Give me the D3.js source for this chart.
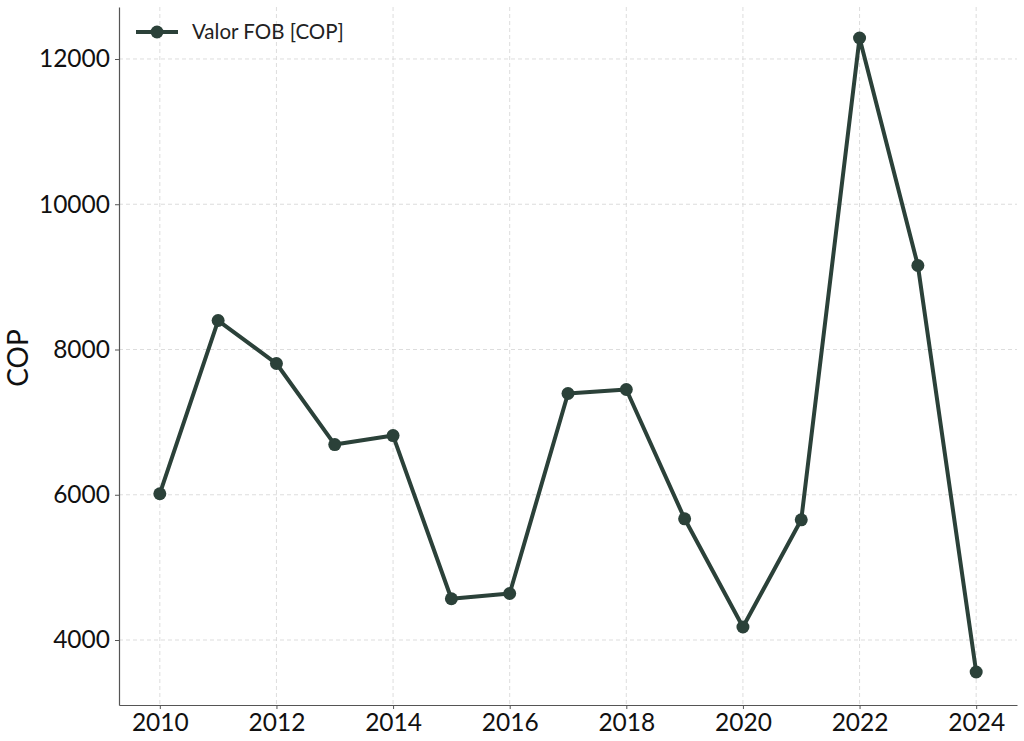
<!DOCTYPE html>
<html>
<head>
<style>
body { margin: 0; background: #fff; }
text { font-family: Lato, "DejaVu Sans", sans-serif; }
</style>
</head>
<body>
<svg id="svg"></svg>
<script src="https://cdnjs.cloudflare.com/ajax/libs/d3/7.8.5/d3.min.js"></script>
<script>
var years = [2010, 2011, 2012, 2013, 2014, 2015, 2016, 2017, 2018, 2019, 2020, 2021, 2022, 2023, 2024]
var valorFOB = [6014, 8399, 7807, 6691, 6815, 4568, 4640, 7394, 7449, 5669, 4179, 5655, 12289, 9157, 3559]
var xTicks = [2010, 2012, 2014, 2016, 2018, 2020, 2022, 2024]
var yTicks = [4000, 6000, 8000, 10000, 12000]
var seriesName = 'Valor FOB [COP]'
var yLabel = 'COP'

var W = 1024, H = 741
var margin = {top: 7, right: 7, bottom: 36, left: 119}
var color = '#2b4139'

var svg = d3.select('#svg').attr('width', W).attr('height', H)

var x = d3.scaleLinear()
  .domain([2009.3, 2024.7])
  .range([margin.left, W - margin.right])
var y = d3.scaleLinear()
  .domain([3105, 12716])
  .range([H - margin.bottom, margin.top])

// grid
svg.append('g').selectAll('line')
  .data(xTicks).enter().append('line')
  .attr('x1', d => x(d)).attr('x2', d => x(d))
  .attr('y1', margin.top).attr('y2', H - margin.bottom)
  .attr('stroke', '#d9d9d9').attr('stroke-dasharray', '4,3').attr('stroke-width', 0.9)
svg.append('g').selectAll('line')
  .data(yTicks).enter().append('line')
  .attr('x1', margin.left).attr('x2', W - margin.right)
  .attr('y1', d => y(d)).attr('y2', d => y(d))
  .attr('stroke', '#d9d9d9').attr('stroke-dasharray', '4,3').attr('stroke-width', 0.9)

var xAxis = d3.axisBottom(x).tickValues(xTicks).tickFormat(d3.format('d')).tickSize(4).tickPadding(5).tickSizeOuter(0)
var yAxis = d3.axisLeft(y).tickValues(yTicks).tickFormat(d3.format('d')).tickSize(4).tickPadding(5).tickSizeOuter(0)

var gx = svg.append('g').attr('transform', 'translate(0,' + (H - margin.bottom) + ')').call(xAxis)
var gy = svg.append('g').attr('transform', 'translate(' + margin.left + ',0)').call(yAxis)
;[gx, gy].forEach(function(g) {
  g.select('.domain').attr('stroke', '#555').attr('stroke-width', 1.2)
  g.selectAll('.tick line').attr('stroke', '#555')
  g.selectAll('.tick text').attr('font-size', 24.5).attr('fill', '#111').style('font-family', 'Lato, sans-serif')
})

svg.append('text')
  .attr('transform', 'translate(18,358) rotate(-90)')
  .attr('text-anchor', 'middle')
  .attr('dy', '0.35em')
  .attr('font-size', 28)
  .attr('fill', '#111')
  .text(yLabel)

var data = years.map((d, i) => ({year: d, v: valorFOB[i]}))
var line = d3.line().x(d => x(d.year)).y(d => y(d.v))

svg.append('path').datum(data)
  .attr('d', line)
  .attr('fill', 'none')
  .attr('stroke', color)
  .attr('stroke-width', 4)
  .attr('stroke-linejoin', 'round')

svg.selectAll('circle.pt').data(data).enter().append('circle')
  .attr('class', 'pt')
  .attr('cx', d => x(d.year)).attr('cy', d => y(d.v))
  .attr('r', 6.5).attr('fill', color)

// legend
var lg = svg.append('g').attr('transform', 'translate(136,32)')
lg.append('line').attr('x1', 0).attr('x2', 42).attr('y1', 0).attr('y2', 0)
  .attr('stroke', color).attr('stroke-width', 4)
lg.append('circle').attr('cx', 21).attr('cy', 0).attr('r', 6.5).attr('fill', color)
lg.append('text').attr('x', 56).attr('y', 0).attr('dy', '0.35em')
  .attr('font-size', 20.5).attr('fill', '#222').text(seriesName)
</script>
</body>
</html>
